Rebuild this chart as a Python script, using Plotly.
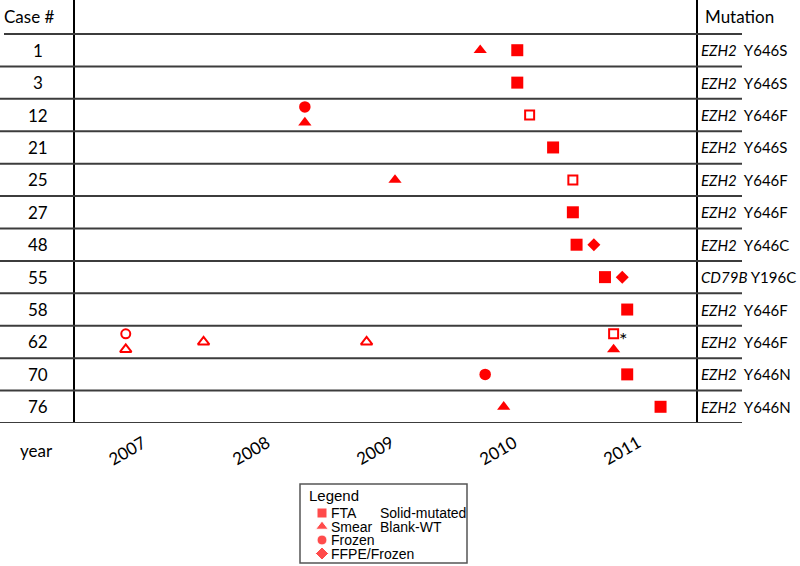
import plotly.graph_objects as go

# cases (rows, top to bottom) and their mutation
CASES = ["1", "3", "12", "21", "25", "27", "48", "55", "58", "62", "70", "76"]
GENES = ["EZH2", "EZH2", "EZH2", "EZH2", "EZH2", "EZH2", "EZH2", "CD79B", "EZH2", "EZH2", "EZH2", "EZH2"]
VARIANTS = ["Y646S", "Y646S", "Y646F", "Y646S", "Y646F", "Y646F", "Y646C", "Y196C",
            "Y646F", "Y646F", "Y646N", "Y646N"]

# one entry per sample
SAMPLE_CASE = ["1", "1", "3", "12", "12", "12", "21", "25", "25", "27", "48", "48",
               "55", "55", "58", "62", "62", "62", "62", "62", "62", "70", "70", "76", "76"]
SAMPLE_YEAR = [2009.86, 2010.16, 2010.16, 2008.44, 2008.44, 2010.26, 2010.45, 2009.17, 2010.61,
               2010.61, 2010.64, 2010.78, 2010.87, 2011.01, 2011.05, 2006.99, 2006.99, 2007.62,
               2008.94, 2010.94, 2010.94, 2009.90, 2011.05, 2010.05, 2011.32]
SAMPLE_TYPE = ["Smear", "FTA", "FTA", "Frozen", "Smear", "FTA", "FTA", "Smear", "FTA",
               "FTA", "FTA", "FFPE/Frozen", "FTA", "FFPE/Frozen", "FTA", "Frozen", "Smear", "Smear",
               "Smear", "FTA", "Smear", "Frozen", "FTA", "Smear", "FTA"]
SAMPLE_MUTATED = [True, True, True, True, True, False, True, True, False,
                  True, True, True, True, True, True, False, False, False,
                  False, False, True, True, True, True, True]
SAMPLE_NOTE = ["", "", "", "", "", "", "", "", "", "", "", "", "", "", "", "", "", "",
               "", "*", "", "", "", "", ""]

YEARS = [2007, 2008, 2009, 2010, 2011]
SAMPLE_TYPES = ["FTA", "Smear", "Frozen", "FFPE/Frozen"]
RESULT_LABELS = ["Solid-mutated", "Blank-WT"]

SYMBOLS = {"FTA": "square", "Smear": "triangle-up", "Frozen": "circle", "FFPE/Frozen": "diamond"}
SIZES = {"FTA": 12, "Smear": 11.5, "Frozen": 11.5, "FFPE/Frozen": 10}
OPEN_SIZES = {"FTA": 9, "Smear": 10, "Frozen": 9, "FFPE/Frozen": 9}
RED = "#ff0000"
W, H = 800, 566

# stack samples taken on the same date within a case
row_of = {c: i for i, c in enumerate(CASES)}
ys = []
for i, (c, yr) in enumerate(zip(SAMPLE_CASE, SAMPLE_YEAR)):
    same = [j for j in range(len(SAMPLE_CASE)) if SAMPLE_CASE[j] == c and SAMPLE_YEAR[j] == yr]
    if len(same) == 1:
        off = 0
    else:
        off = -0.25 if same.index(i) == 0 else 0.23
    ys.append(row_of[c] + off)

fig = go.Figure()

for stype in SAMPLE_TYPES:
    for mutated in (True, False):
        idx = [i for i in range(len(SAMPLE_CASE))
               if SAMPLE_TYPE[i] == stype and SAMPLE_MUTATED[i] == mutated]
        if not idx:
            continue
        sym = SYMBOLS[stype] + ("" if mutated else "-open")
        fig.add_trace(go.Scatter(
            x=[SAMPLE_YEAR[i] for i in idx],
            y=[ys[i] for i in idx],
            mode="markers",
            marker=dict(symbol=sym, color=RED,
                        size=SIZES[stype] if mutated else OPEN_SIZES[stype],
                        line=dict(color=RED, width=0 if mutated else 2)),
            showlegend=False,
            hoverinfo="skip",
        ))

# custom legend box drawn on its own axes
fig.add_trace(go.Scatter(
    x=[0] * len(SAMPLE_TYPES),
    y=list(range(len(SAMPLE_TYPES))),
    mode="markers",
    marker=dict(symbol=[SYMBOLS[t] for t in SAMPLE_TYPES], color=RED,
                size=[10, 11, 10, 10]),
    xaxis="x2", yaxis="y2",
    showlegend=False, hoverinfo="skip",
))

y_bottom = 1 - 423 / H
fig.update_layout(
    width=W, height=H,
    margin=dict(l=0, r=0, t=0, b=0),
    paper_bgcolor="white", plot_bgcolor="white",
    font=dict(family="Lato", color="black"),
    xaxis=dict(domain=[75 / W, 696 / W], range=[2006.579, 2011.607],
               showgrid=False, zeroline=False, showticklabels=False, ticks=""),
    yaxis=dict(domain=[y_bottom, 1], range=[11.5, -1.549],
               showgrid=False, zeroline=False, showticklabels=False, ticks="",
               showline=True, mirror=True, linecolor="black", linewidth=1.5),
    xaxis2=dict(domain=[300 / W, 467 / W], range=[-22, 145], visible=False, anchor="y2"),
    yaxis2=dict(domain=[1 - 563 / H, 1 - 484 / H], range=[3.704, -2.148],
                visible=False, anchor="x2"),
)

# horizontal row separators
shapes = []
for i in range(len(CASES) + 1):
    shapes.append(dict(type="line", xref="paper", yref="y",
                       x0=(4 if i == 0 else 0) / W, x1=742 / W, y0=i - 0.5, y1=i - 0.5,
                       line=dict(color="#3c3c3c", width=2)))
# legend frame
shapes.append(dict(type="rect", xref="paper", yref="paper",
                   x0=300 / W, x1=467 / W, y0=1 - 563 / H, y1=1 - 484 / H,
                   line=dict(color="#555555", width=1.5)))
fig.update_layout(shapes=shapes)

ann = []
ann.append(dict(text="Case #", x=29 / W, y=-1.05, xref="paper", yref="y", xanchor="center",
                showarrow=False, font=dict(size=17)))
ann.append(dict(text="Mutation", x=703 / W, y=-1.05, xref="paper", yref="y",
                xanchor="left", showarrow=False, font=dict(size=17)))
for i, c in enumerate(CASES):
    ann.append(dict(text=c, x=38 / W, y=i, xref="paper", yref="y", xanchor="center",
                    showarrow=False, font=dict(size=17)))
    ann.append(dict(text=f"<i>{GENES[i]}</i>" + ("&nbsp;" if GENES[i] == "CD79B" else "&nbsp;&nbsp;")
                    + VARIANTS[i],
                    x=699 / W, y=i, xref="paper", yref="y", xanchor="left",
                    showarrow=False, font=dict(size=15)))
for i, note in enumerate(SAMPLE_NOTE):
    if note:
        ann.append(dict(text=note, x=SAMPLE_YEAR[i], y=ys[i], xref="x", yref="y",
                        xshift=10, yshift=-5, showarrow=False, font=dict(size=20)))
for yr in YEARS:
    ann.append(dict(text=str(yr), x=yr, y=1 - 450 / H, xref="x", yref="paper",
                    xanchor="center", yanchor="middle",
                    textangle=-30, showarrow=False, font=dict(size=17)))
ann.append(dict(text="year", x=36 / W, y=1 - 450 / H, xref="paper", yref="paper",
                xanchor="center", yanchor="middle", showarrow=False, font=dict(size=17)))

# legend texts
lfont = dict(family="Liberation Sans", size=14, color="black")
ann.append(dict(text="Legend", x=0, y=-1.26, xref="x2", yref="y2", xanchor="left",
                xshift=-15, showarrow=False, font=dict(family="Liberation Sans", size=15)))
for i, t in enumerate(SAMPLE_TYPES):
    ann.append(dict(text=t, x=0, y=i, xref="x2", yref="y2", xanchor="left",
                    xshift=7, showarrow=False, font=lfont))
for i, t in enumerate(RESULT_LABELS):
    ann.append(dict(text=t, x=0, y=i, xref="x2", yref="y2", xanchor="left",
                    xshift=56, showarrow=False, font=lfont))
fig.update_layout(annotations=ann)

fig.write_html("out.html", config={"displayModeBar": False},
               post_script="document.body.style.margin='0';")
